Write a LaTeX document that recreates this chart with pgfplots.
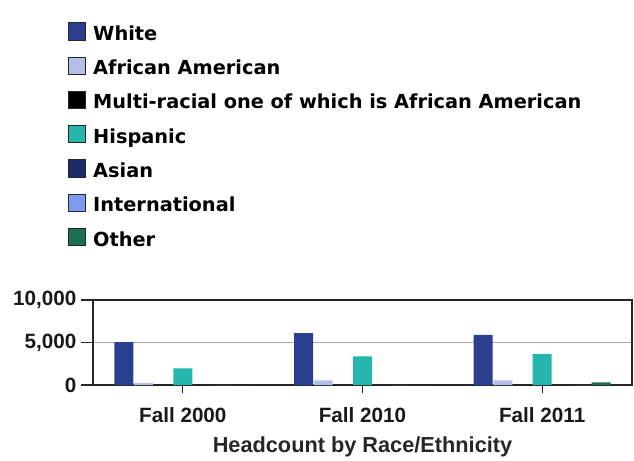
\documentclass[border=0pt]{standalone}
\usepackage{pgfplots}
\pgfplotsset{compat=1.18}
\usepackage{fontspec}
\setmainfont{Liberation Sans}
\newfontfamily\legfont{DejaVu Sans}
\definecolor{cWhite}{HTML}{2A3F8F}
\definecolor{cAA}{HTML}{B4BEE8}
\definecolor{cMulti}{HTML}{000000}
\definecolor{cHisp}{HTML}{26B5AD}
\definecolor{cAsian}{HTML}{1C2B66}
\definecolor{cIntl}{HTML}{7D9CF0}
\definecolor{cOther}{HTML}{1E6E55}
\begin{document}
\begin{tikzpicture}[x=1pt,y=1pt]
\path[use as bounding box] (0,0) rectangle (475.5,345);
\begin{axis}[
  at={(69.75pt,56.25pt)}, anchor=south west,
  scale only axis, width=404.25pt, height=63.75pt,
  xmin=-0.5, xmax=2.5, ymin=0, ymax=10000,
  xtick={0,1,2}, xticklabels={Fall 2000,Fall 2010,Fall 2011},
  ytick={0,5000,10000},
  xtick pos=bottom, ytick pos=left,
  tick align=outside,
  major tick length=9pt,
  xtick style={/pgfplots/major tick length=6pt},
  tick style={black!85, line width=0.8pt},
  axis line style={black!85, line width=0.8pt},
  ymajorgrids, grid style={black!35, line width=0.7pt},
  scaled y ticks=false,
  /pgf/number format/.cd, 1000 sep={,}, assume math mode=true, /pgfplots/.cd,
  ticklabel style={font=\fontsize{15.5}{18}\selectfont\bfseries, text=black!90},
  xticklabel style={yshift=-4.5pt},
  xlabel={Headcount by Race/Ethnicity},
  xlabel style={font=\fontsize{16.3}{19}\selectfont\bfseries, text=black!85, yshift=-3.75pt},
  ybar=0.5pt, bar width=14.25pt,
  every axis plot/.append style={draw=none},
  legend style={at={(-0.0464,4.27)}, anchor=north west, draw=none, fill=none,
    font=\legfont\bfseries\fontsize{14.5}{17}\selectfont,
    nodes={text height=11pt, text depth=3.5pt, inner sep=0pt},
    row sep=8.6pt, column sep=5.5pt, inner sep=0pt},
  legend cell align=left,
  legend image code/.code={\draw[#1, draw=black!85, line width=0.7pt] (0pt,-3.5pt) rectangle (12.5pt,9.5pt);},
]
\addplot[fill=cWhite] coordinates {(0,5050) (1,6100) (2,5900)};
\addlegendentry{White}
\addplot[fill=cAA] coordinates {(0,250) (1,550) (2,550)};
\addlegendentry{African American}
\addplot[fill=cMulti] coordinates {(0,0) (1,0) (2,0)};
\addlegendentry{Multi-racial one of which is African American}
\addplot[fill=cHisp] coordinates {(0,1950) (1,3380) (2,3660)};
\addlegendentry{Hispanic}
\addplot[fill=cAsian] coordinates {(0,0) (1,0) (2,0)};
\addlegendentry{Asian}
\addplot[fill=cIntl] coordinates {(0,0) (1,0) (2,0)};
\addlegendentry{International}
\addplot[fill=cOther] coordinates {(0,0) (1,0) (2,300)};
\addlegendentry{Other}
\end{axis}
\end{tikzpicture}
\end{document}
